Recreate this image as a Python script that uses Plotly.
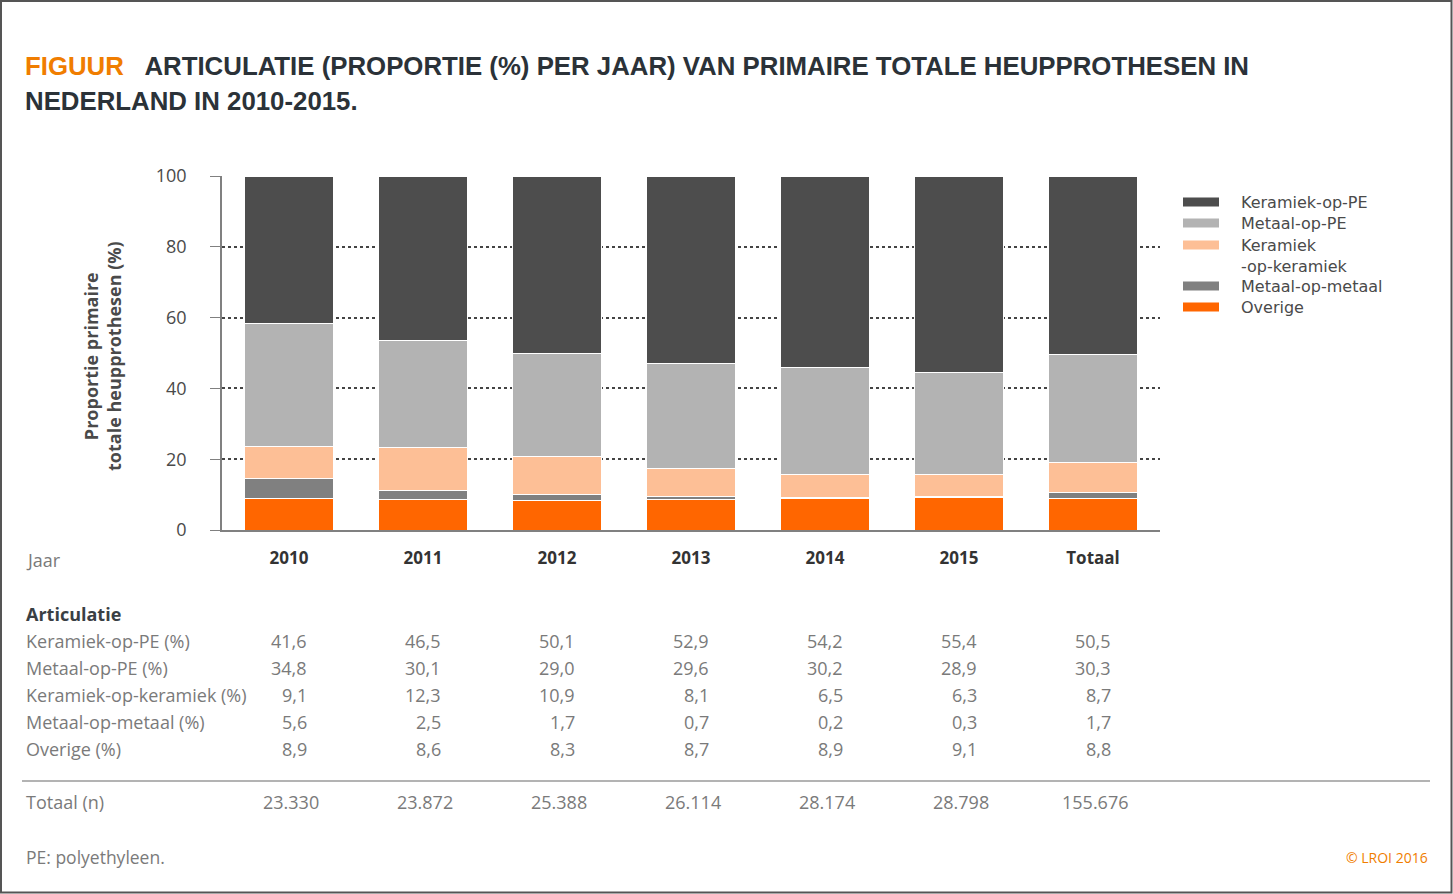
import plotly.graph_objects as go

# ---------------- data ----------------
years = ["2010", "2011", "2012", "2013", "2014", "2015", "Totaal"]
keramiek_pe = [41.6, 46.5, 50.1, 52.9, 54.2, 55.4, 50.5]
metaal_pe = [34.8, 30.1, 29.0, 29.6, 30.2, 28.9, 30.3]
keramiek_keramiek = [9.1, 12.3, 10.9, 8.1, 6.5, 6.3, 8.7]
metaal_metaal = [5.6, 2.5, 1.7, 0.7, 0.2, 0.3, 1.7]
overige = [8.9, 8.6, 8.3, 8.7, 8.9, 9.1, 8.8]
totaal_n = [23330, 23872, 25388, 26114, 28174, 28798, 155676]

series_names = ["Overige", "Metaal-op-metaal", "Keramiek-op-keramiek", "Metaal-op-PE", "Keramiek-op-PE"]
series_values = [overige, metaal_metaal, keramiek_keramiek, metaal_pe, keramiek_pe]
series_colors = ["#ff6600", "#808080", "#fdbf96", "#b3b3b3", "#4d4d4d"]

table_labels = ["Keramiek-op-PE (%)", "Metaal-op-PE (%)", "Keramiek-op-keramiek (%)",
                "Metaal-op-metaal (%)", "Overige (%)"]
table_values = [keramiek_pe, metaal_pe, keramiek_keramiek, metaal_metaal, overige]

legend_labels = [["Keramiek-op-PE"], ["Metaal-op-PE"], ["Keramiek", "-op-keramiek"], ["Metaal-op-metaal"], ["Overige"]]
legend_colors = ["#4d4d4d", "#b3b3b3", "#fdbf96", "#808080", "#ff6600"]

# ---------------- layout helpers (pixel -> paper) ----------------
W, H = 1453, 894
L, R, T, B = 222, 1160, 176, 530


def px(x):
    return (x - L) / (R - L)


def py(y):
    return (B - y) / (B - T)


TXT = "Open Sans"
GRAY = "#7a7a7a"
DARK = "#3a3f44"
TITLE_FONT = dict(family="Liberation Sans", size=25.8, color="#2b3238", weight="bold")

fig = go.Figure()
for name, vals, col in zip(series_names, series_values, series_colors):
    fig.add_trace(go.Bar(
        x=years, y=vals, name=name, marker_color=col,
        marker_line_color="white", marker_line_width=1, showlegend=False,
    ))

ann = []
shapes = []

# title
ann.append(dict(x=px(23), y=py(66), xref="paper", yref="paper", xanchor="left", yanchor="middle",
                showarrow=False,
                text="<span style='color:#f07d00'>FIGUUR</span>   ARTICULATIE (PROPORTIE (%) PER JAAR) VAN PRIMAIRE TOTALE HEUPPROTHESEN IN",
                font=TITLE_FONT))
ann.append(dict(x=px(23), y=py(101), xref="paper", yref="paper", xanchor="left", yanchor="middle",
                showarrow=False, text="NEDERLAND IN 2010-2015.", font=TITLE_FONT))

# y-axis title
ann.append(dict(x=px(102), y=py(356), xref="paper", yref="paper", xanchor="center", yanchor="middle",
                showarrow=False, textangle=-90,
                text="<b>Proportie primaire<br>totale heupprothesen (%)</b>",
                font=dict(family=TXT, size=18, color="#4a4a4a")))

# Jaar
ann.append(dict(x=px(24), y=py(560), xref="paper", yref="paper", xanchor="left", yanchor="middle",
                showarrow=False, text="Jaar", font=dict(family=TXT, size=18, color=GRAY)))

# legend (manual)
leg_y = [202, 223, 245, 286, 307]
for lines, col, yy in zip(legend_labels, legend_colors, leg_y):
    shapes.append(dict(type="rect", xref="paper", yref="paper", x0=px(1183), x1=px(1219),
                       y0=py(yy - 4.5), y1=py(yy + 4.5), fillcolor=col, line=dict(width=0)))
    for k, line in enumerate(lines):
        ann.append(dict(x=px(1240), y=py(yy + 21 * k), xref="paper", yref="paper", xanchor="left",
                        yanchor="middle", showarrow=False, text=line, align="left", borderpad=0,
                        font=dict(family="DejaVu Sans", size=16, color="#4a4a4a")))

# table
ann.append(dict(x=px(24), y=py(614), xref="paper", yref="paper", xanchor="left", yanchor="middle",
                showarrow=False, text="<b>Articulatie</b>", font=dict(family=TXT, size=18, color=DARK)))
row_y = [641, 668, 695, 722, 749]
centers = [289 + 134 * i for i in range(len(years))]
for lab, vals, yy in zip(table_labels, table_values, row_y):
    ann.append(dict(x=px(24), y=py(yy), xref="paper", yref="paper", xanchor="left", yanchor="middle",
                    showarrow=False, text=lab, font=dict(family=TXT, size=18, color=GRAY)))
    for c, v in zip(centers, vals):
        ann.append(dict(x=px(c + 20), y=py(yy), xref="paper", yref="paper", xanchor="right",
                        yanchor="middle", showarrow=False, text=f"{v:.1f}".replace(".", ","),
                        font=dict(family=TXT, size=18, color=GRAY)))

shapes.append(dict(type="line", xref="paper", yref="paper", x0=px(22), x1=px(1430), y0=py(781), y1=py(781),
                   line=dict(color="#9a9a9a", width=1.5)))
ann.append(dict(x=px(24), y=py(802), xref="paper", yref="paper", xanchor="left", yanchor="middle",
                showarrow=False, text="Totaal (n)", font=dict(family=TXT, size=18, color=GRAY)))
for c, n in zip(centers, totaal_n):
    ann.append(dict(x=px(c + 2), y=py(802), xref="paper", yref="paper", xanchor="center", yanchor="middle",
                    showarrow=False, text=f"{n:,}".replace(",", "."),
                    font=dict(family=TXT, size=18, color=GRAY)))

ann.append(dict(x=px(24), y=py(857), xref="paper", yref="paper", xanchor="left", yanchor="middle",
                showarrow=False, text="PE: polyethyleen.", font=dict(family=TXT, size=17.5, color=GRAY)))
ann.append(dict(x=px(1430), y=py(857), xref="paper", yref="paper", xanchor="right", yanchor="middle",
                showarrow=False, text="© LROI 2016", font=dict(family=TXT, size=14, color="#f07d00")))

# outer frame
shapes.append(dict(type="rect", xref="paper", yref="paper", x0=px(1), x1=px(W - 1.5), y0=py(H - 1.5), y1=py(1),
                   line=dict(color="#555555", width=2), fillcolor="rgba(0,0,0,0)"))

fig.update_layout(
    width=W, height=H,
    margin=dict(l=L, r=W - R, t=T, b=H - B),
    barmode="stack", bargap=0.34,
    plot_bgcolor="white", paper_bgcolor="white",
    annotations=ann, shapes=shapes,
    font=dict(family=TXT, color="#4a4a4a"),
)
fig.update_yaxes(range=[0, 100], tickvals=[0, 20, 40, 60, 80, 100], showgrid=True,
                 gridcolor="#444444", griddash="dot", gridwidth=1.5,
                 showline=True, linecolor="#808080", linewidth=1.5,
                 ticks="outside", ticklen=10, tickcolor="#808080", ticklabelstandoff=20,
                 tickfont=dict(family=TXT, size=18, color="#4a4a4a"), zeroline=False)
fig.update_xaxes(type="category", range=[-0.5, 6.5], showline=True, linecolor="#808080", linewidth=2,
                 ticks="", ticklabelstandoff=12,
                 tickfont=dict(family=TXT, size=17, color="#333333", weight="bold"))

fig.write_html("out.html", config={"displayModeBar": False},
               post_script="document.body.style.margin='0';document.body.style.overflow='hidden';")
